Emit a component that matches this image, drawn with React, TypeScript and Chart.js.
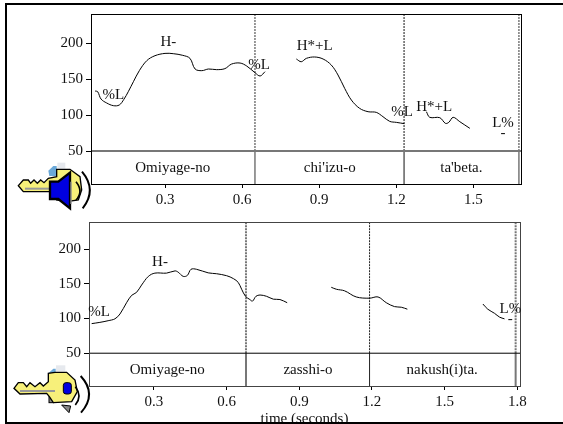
import React, { useEffect, useRef } from "react";
import { Chart, registerables } from "chart.js";

Chart.register(...registerables);

const FONT = "'Liberation Serif', 'Times New Roman', serif";

const hzTicks = [50, 100, 150, 200];
const timeTicksTop = [0.3, 0.6, 0.9, 1.2, 1.5];
const timeTicksBottom = [0.3, 0.6, 0.9, 1.2, 1.5, 1.8];

// Top panel: pitch track segments
const topTimesA = [0.028, 0.038, 0.051, 0.073, 0.099, 0.122, 0.14, 0.157, 0.177, 0.2, 0.229, 0.261, 0.3, 0.332, 0.369, 0.397, 0.417, 0.443, 0.469, 0.501, 0.533, 0.559, 0.592, 0.618, 0.65, 0.67, 0.689];
const topHzA = [133.3, 132.4, 122.2, 116.7, 113, 113.9, 121.8, 132.4, 146.3, 161.6, 175.5, 182.4, 185.6, 185.2, 182.9, 178.7, 163.9, 161.6, 163.9, 163, 164.4, 170.8, 172.2, 168, 158.8, 154.2, 160.2];
const topTimesB = [0.811, 0.83, 0.85, 0.882, 0.915, 0.947, 0.973, 0.999, 1.025, 1.057, 1.09, 1.122, 1.148, 1.174, 1.2, 1.231];
const topHzB = [177.8, 174, 178.7, 180.6, 177.8, 169.4, 155.6, 137, 120.8, 109.3, 104.6, 103.7, 97.7, 91.2, 89.8, 88];
const topTimesC = [1.317, 1.33, 1.369, 1.391, 1.404, 1.421, 1.447, 1.486];
const topHzC = [104.6, 96.8, 96.3, 88.4, 89.8, 96.8, 90.7, 81.5];

// Bottom panel: pitch track segments
const botTimesA = [0.043, 0.077, 0.111, 0.139, 0.16, 0.187, 0.208, 0.228, 0.249, 0.277, 0.304, 0.352, 0.387, 0.4, 0.421, 0.438, 0.453, 0.476, 0.524, 0.559, 0.6, 0.628, 0.648, 0.662, 0.678, 0.696, 0.707, 0.721, 0.738, 0.765, 0.793, 0.82, 0.85];
const botHzA = [92.6, 94.4, 96.8, 99.5, 106.5, 122.7, 133.3, 137.5, 148.1, 160.6, 165.3, 165.3, 168.5, 166.7, 160.6, 162, 170.8, 170.8, 165.7, 164.4, 161.6, 157.4, 151.9, 142.1, 131.9, 127.3, 125, 131.9, 133.8, 131.9, 127.8, 127.3, 122.7];
const botTimesB = [1.032, 1.053, 1.087, 1.135, 1.19, 1.225, 1.259, 1.293, 1.321, 1.346];
const botHzB = [144.9, 142.1, 139.8, 131, 129.2, 131, 122.7, 117.1, 116.2, 113.4];
const botTimesC = [1.658, 1.678, 1.706, 1.727, 1.747];
const botHzC = [120.8, 113.4, 107.4, 101.9, 99.5];

// Word boundaries (seconds)
const topBoundaries = [0.65, 1.23, 1.677];
const botBoundaries = [0.68, 1.19, 1.793];

// Annotation texts
const topToneText = ["%L", "H-", "%L", "H*+L", "%L", "H*+L", "L%", "-"];
const topToneTime = [0.099, 0.313, 0.666, 0.882, 1.222, 1.347, 1.615, 1.615];
const topToneHz = [127.8, 201, 169.4, 195.8, 103.7, 111.6, 88.4, 74.5];
const topWords = ["Omiyage-no", "chi'izu-o", "ta'beta."];
const topWordTime = [0.33, 0.941, 1.453];

const botToneText = ["%L", "H-", "L%", "-"];
const botToneTime = [0.074, 0.325, 1.771, 1.771];
const botToneHz = [108.8, 180.6, 113.4, 99.5];
const botWords = ["Omiyage-no", "zasshi-o", "nakush(i)ta."];
const botWordTime = [0.355, 0.936, 1.49];

const wordHz = 26;
const tierHz = 50;

const zip = (xs: number[], ys: number[]) => xs.map((x, i) => ({ x, y: ys[i] }));

type PanelCfg = {
  tracks: [number[], number[]][];
  boundaries: number[];
  toneText: string[];
  toneTime: number[];
  toneHz: number[];
  words: string[];
  wordTime: number[];
  ticks: number[];
  xMin: number;
  xMax: number;
  yMin: number;
  yMax: number;
  padTop: number;
  padRight: number;
  yWidth: number;
  xHeight: number;
  frameColor: string;
  tierColor: string;
  tierWidth: number;
  boundaryWidths: number[];
  boundaryColors: string[];
  title?: string;
};

function makeChart(canvas: HTMLCanvasElement, c: PanelCfg) {
  const datasets: any[] = [];
  c.tracks.forEach(([t, h]) => {
    datasets.push({
      data: zip(t, h),
      borderColor: "#000",
      borderWidth: 1,
      pointRadius: 0,
      tension: 0.35,
      fill: false,
    });
  });
  datasets.push({
    data: [{ x: c.xMin, y: tierHz }, { x: c.xMax, y: tierHz }],
    borderColor: c.tierColor,
    borderWidth: c.tierWidth,
    pointRadius: 0,
  });
  c.boundaries.forEach((b, i) => {
    datasets.push({
      data: [{ x: b, y: tierHz }, { x: b, y: c.yMax }],
      borderColor: c.boundaryColors[i],
      borderWidth: c.boundaryWidths[i],
      borderDash: [2, 1],
      pointRadius: 0,
    });
    datasets.push({
      data: [{ x: b, y: c.yMin }, { x: b, y: tierHz }],
      borderColor: c.boundaryColors[i],
      borderWidth: c.boundaryWidths[i],
      pointRadius: 0,
    });
  });

  const textPlugin = {
    id: "panelText",
    afterDraw(chart: any) {
      const { ctx, chartArea: a, scales } = chart;
      ctx.save();
      ctx.strokeStyle = c.frameColor;
      ctx.lineWidth = 1;
      ctx.strokeRect(a.left + 0.5, a.top + 0.5, a.width, a.height);
      ctx.fillStyle = "#111";
      ctx.font = `15px ${FONT}`;
      ctx.textAlign = "center";
      ctx.textBaseline = "middle";
      c.toneText.forEach((s, i) => {
        ctx.fillText(s, scales.x.getPixelForValue(c.toneTime[i]), scales.y.getPixelForValue(c.toneHz[i]));
      });
      c.words.forEach((s, i) => {
        ctx.fillText(s, scales.x.getPixelForValue(c.wordTime[i]), scales.y.getPixelForValue(wordHz));
      });
      ctx.restore();
    },
  };

  return new Chart(canvas, {
    type: "line",
    data: { datasets },
    plugins: [textPlugin],
    options: {
      responsive: false,
      animation: false,
      layout: { padding: { left: 0, right: c.padRight, top: c.padTop, bottom: 0 } },
      plugins: { legend: { display: false }, tooltip: { enabled: false } },
      scales: {
        x: {
          type: "linear",
          min: c.xMin,
          max: c.xMax,
          afterBuildTicks: (s: any) => {
            s.ticks = c.ticks.map((value) => ({ value }));
          },
          afterFit: (s: any) => {
            s.height = c.xHeight;
          },
          grid: { drawOnChartArea: false, color: "#000", tickLength: 4, tickColor: "#000" },
          border: { color: c.frameColor },
          ticks: {
            autoSkip: false,
            maxRotation: 0,
            padding: 3,
            color: "#111",
            font: { family: FONT, size: 15 },
            callback: (v: any) => Number(v).toFixed(1),
          },
          title: c.title
            ? { display: true, text: c.title, color: "#111", font: { family: FONT, size: 15 }, padding: { top: 0, bottom: -4 } }
            : { display: false },
        },
        y: {
          type: "linear",
          min: c.yMin,
          max: c.yMax,
          afterBuildTicks: (s: any) => {
            s.ticks = hzTicks.map((value) => ({ value }));
          },
          afterFit: (s: any) => {
            s.width = c.yWidth;
          },
          grid: { drawOnChartArea: false, color: "#000", tickLength: 5, tickColor: "#000" },
          border: { color: c.frameColor },
          ticks: {
            padding: 3,
            color: "#111",
            font: { family: FONT, size: 15 },
          },
        },
      },
    } as any,
  });
}

function TopIcon() {
  return (
    <svg width={290} height={215} viewBox="0 0 870 645" style={{ position: "absolute", left: 0, top: 0, pointerEvents: "none" }}>
      <polygon points="145,512 160,498 170,498 170,528 148,528" fill="#6aa8d8" />
      <rect x={172} y={488} width={24} height={18} fill="#e6e9ee" />
      <polygon points="55,557 70,540 85,540 92,550 102,540 112,550 122,540 132,548 145,535 170,530 170,508 210,508 240,530 245,570 235,600 200,605 170,600 170,580 150,575 70,575" fill="#f7f07a" stroke="#000" strokeWidth={4} />
      <line x1={75} y1={566} x2={150} y2={566} stroke="#999" strokeWidth={6} />
      <polygon points="150,545 175,545 210,518 210,625 175,597 150,597" fill="#0000e0" stroke="#000" strokeWidth={7} />
      <line x1={213} y1={545} x2={213} y2={612} stroke="#999" strokeWidth={4} />
      <path d="M246,515 Q292,570 248,625" fill="none" stroke="#000" strokeWidth={6} />
      <path d="M228,545 Q252,575 228,600" fill="none" stroke="#000" strokeWidth={5} />
    </svg>
  );
}

function BottomIcon() {
  return (
    <svg width={290} height={214} viewBox="0 0 870 642" style={{ position: "absolute", left: 0, top: 210, pointerEvents: "none" }}>
      <polygon points="145,490 160,476 167,476 167,502 148,502" fill="#6aa8d8" />
      <rect x={168} y={466} width={28} height={18} fill="#e6e9ee" />
      <polygon points="185,585 212,588 207,608" fill="#888" stroke="#000" strokeWidth={3} />
      <rect x={147} y={560} width={14} height={18} fill="#888" stroke="#000" strokeWidth={3} />
      <polygon points="42,535 55,518 70,518 80,530 90,518 105,530 120,518 130,528 145,515 145,490 165,487 200,487 225,510 232,545 215,575 160,578 148,560 140,550 60,552" fill="#f7f07a" stroke="#000" strokeWidth={4} />
      <line x1={60} y1={543} x2={165} y2={543} stroke="#999" strokeWidth={6} />
      <rect x={190} y={518} width={24} height={34} rx={8} fill="#0000e0" stroke="#000" strokeWidth={3} />
      <path d="M242,498 Q292,552 243,608" fill="none" stroke="#000" strokeWidth={6} />
      <path d="M226,530 Q248,558 226,585" fill="none" stroke="#000" strokeWidth={5} />
    </svg>
  );
}

export default function App() {
  const topRef = useRef<HTMLCanvasElement>(null);
  const botRef = useRef<HTMLCanvasElement>(null);

  useEffect(() => {
    const a = makeChart(topRef.current!, {
      tracks: [[topTimesA, topHzA], [topTimesB, topHzB], [topTimesC, topHzC]],
      boundaries: topBoundaries,
      toneText: topToneText,
      toneTime: topToneTime,
      toneHz: topToneHz,
      words: topWords,
      wordTime: topWordTime,
      ticks: timeTicksTop,
      xMin: 0.012,
      xMax: 1.685,
      yMin: 4.2,
      yMax: 240.3,
      padTop: 14,
      padRight: 42,
      yWidth: 91,
      xHeight: 28,
      frameColor: "#000",
      tierColor: "#777",
      tierWidth: 2,
      boundaryWidths: [1, 1, 1],
      boundaryColors: ["#333", "#111", "#333"],
    });
    const b = makeChart(botRef.current!, {
      tracks: [[botTimesA, botHzA], [botTimesB, botHzB], [botTimesC, botHzC]],
      boundaries: botBoundaries,
      toneText: botToneText,
      toneTime: botToneTime,
      toneHz: botToneHz,
      words: botWords,
      wordTime: botWordTime,
      ticks: timeTicksBottom,
      xMin: 0.032,
      xMax: 1.811,
      yMin: 2.8,
      yMax: 238.9,
      padTop: 6,
      padRight: 43,
      yWidth: 89,
      xHeight: 38,
      frameColor: "#444",
      tierColor: "#000",
      tierWidth: 1,
      boundaryWidths: [2, 1, 2],
      boundaryColors: ["#777", "#222", "#777"],
      title: "time (seconds)",
    });
    return () => {
      a.destroy();
      b.destroy();
    };
  }, []);

  return (
    <div style={{ position: "absolute", left: 0, top: 0, width: 563, height: 424, overflow: "hidden", background: "#fff" }}>
      <canvas ref={topRef} width={563} height={212} style={{ position: "absolute", left: 0, top: 0 }} />
      <canvas ref={botRef} width={563} height={214} style={{ position: "absolute", left: 0, top: 210 }} />
      <TopIcon />
      <BottomIcon />
      <div style={{ position: "absolute", left: 5, top: 3, width: 558, height: 2, background: "#000" }} />
      <div style={{ position: "absolute", left: 5, top: 3, width: 2, height: 420, background: "#000" }} />
      <div style={{ position: "absolute", left: 5, top: 422, width: 558, height: 2, background: "#000" }} />
    </div>
  );
}
